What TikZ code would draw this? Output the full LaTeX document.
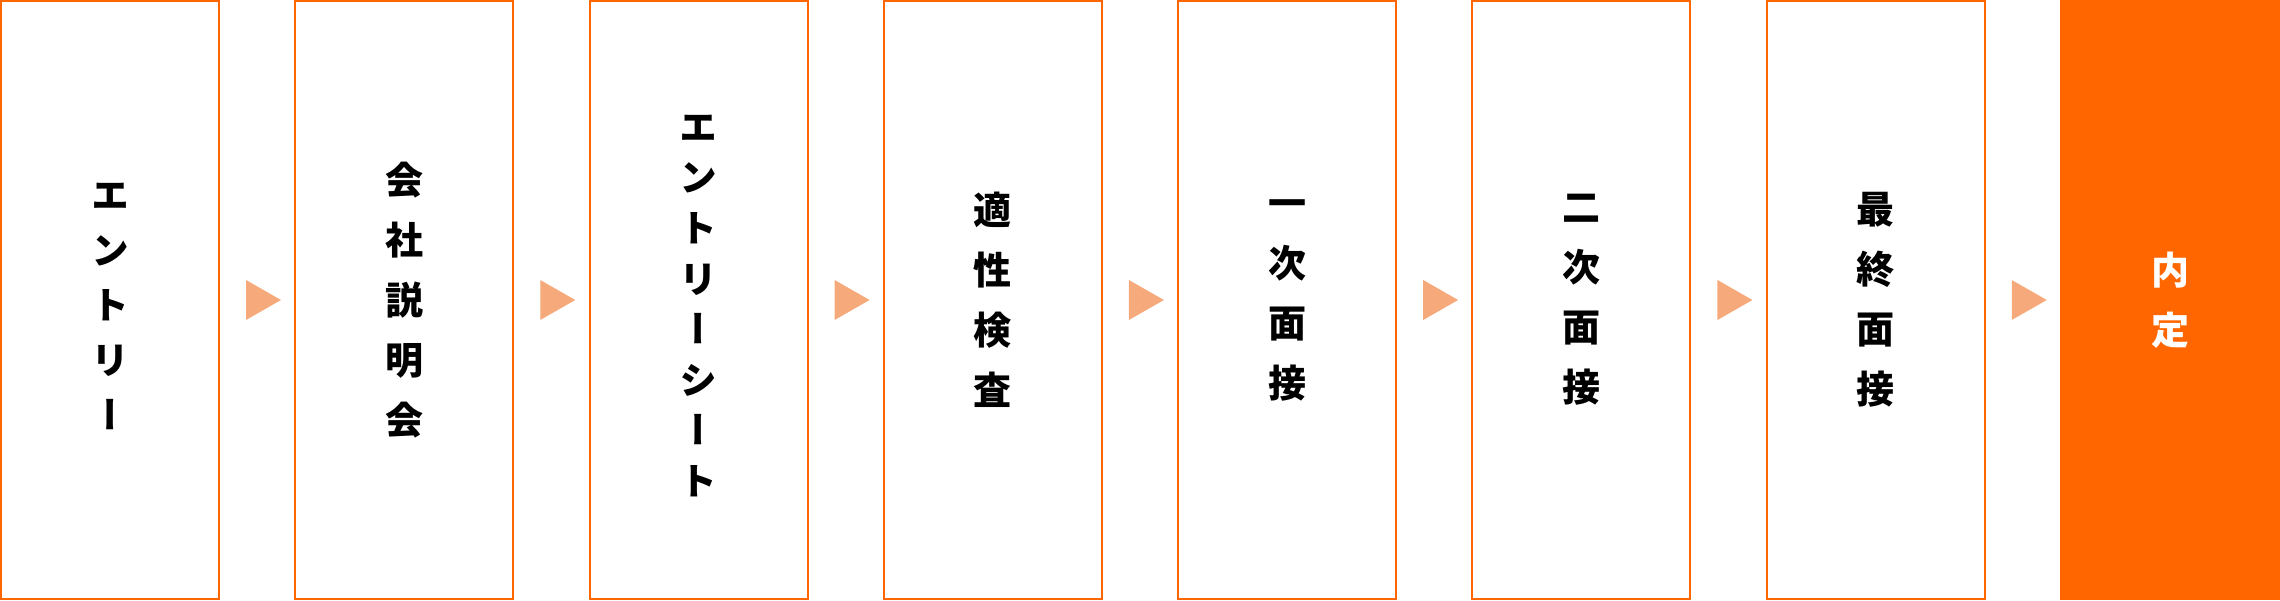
\documentclass[tikz,border=0pt]{standalone}
\usepackage{fontspec}
\setmainfont{Noto Sans CJK JP}[RawFeature={+vert}]
\usepackage{tikz}
\definecolor{flowline}{RGB}{255,102,0}
\definecolor{arrowmark}{RGB}{246,170,123}
\newcommand{\kanalead}[1]{\raisebox{0pt}[\dimexpr\height+12pt\relax]{#1}}
\tikzset{
    stepbox/.style={rectangle,draw=flowline,line width=2pt,outer sep=0pt,inner sep=0pt,minimum width=218pt,minimum height=598pt,align=center,font=\bfseries\fontsize{38}{60}\selectfont},
    kanabox/.style={stepbox,font=\bfseries\fontsize{38}{55}\selectfont},
    goalbox/.style={rectangle,fill=flowline,draw=none,outer sep=0pt,inner sep=0pt,minimum width=220pt,minimum height=600pt,align=center,text=white,font=\bfseries\fontsize{38}{60}\selectfont},
    stepmark/.style={fill=arrowmark,draw=none},
}
\usetikzlibrary{positioning}

\begin{document}
\begin{tikzpicture}[x=1pt,y=1pt]
\useasboundingbox (0,0) rectangle (2280,600);
\node[kanabox](entry) at (110,300) {\kanalead{エ}\\ン\\ト\\リ\\ー};
\node[stepbox](briefing) [right =76.29pt of entry] {会\\社\\説\\明\\会};
\node[kanabox,font=\bfseries\fontsize{38}{50.6}\selectfont](sheet) [right =76.29pt of briefing] {\kanalead{エ}\\ン\\ト\\リ\\ー\\シ\\ー\\ト};
\node[stepbox](aptitude) [right =76.29pt of sheet] {適\\性\\検\\査};
\node[stepbox](first) [right =76.29pt of aptitude] {一\\次\\面\\接};
\node[stepbox](second) [right =76.29pt of first] {二\\次\\面\\接};
\node[stepbox](final) [right =76.29pt of second] {最\\終\\面\\接};
\node[goalbox](offer) [right =75.29pt of final] {内\\定};

\fill[stepmark] ([xshift=27pt,yshift=20pt]entry.east) -- ++(35,-20) -- ++(-35,-20) -- cycle;
\fill[stepmark] ([xshift=27pt,yshift=20pt]briefing.east) -- ++(35,-20) -- ++(-35,-20) -- cycle;
\fill[stepmark] ([xshift=27pt,yshift=20pt]sheet.east) -- ++(35,-20) -- ++(-35,-20) -- cycle;
\fill[stepmark] ([xshift=27pt,yshift=20pt]aptitude.east) -- ++(35,-20) -- ++(-35,-20) -- cycle;
\fill[stepmark] ([xshift=27pt,yshift=20pt]first.east) -- ++(35,-20) -- ++(-35,-20) -- cycle;
\fill[stepmark] ([xshift=27pt,yshift=20pt]second.east) -- ++(35,-20) -- ++(-35,-20) -- cycle;
\fill[stepmark] ([xshift=27pt,yshift=20pt]final.east) -- ++(35,-20) -- ++(-35,-20) -- cycle;
\end{tikzpicture}
\end{document}
